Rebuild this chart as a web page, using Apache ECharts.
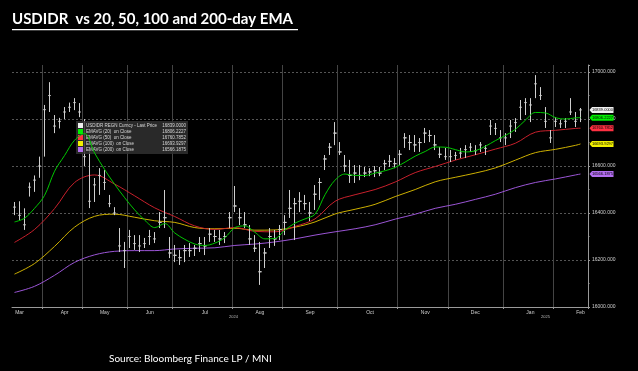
<!DOCTYPE html>
<html><head><meta charset="utf-8">
<script src="https://cdn.jsdelivr.net/npm/echarts@6/dist/echarts.min.js"></script>
<style>html,body{margin:0;padding:0;background:#000}#c{width:638px;height:371px}</style>
</head><body><div id="c"></div>
<script>
// ---- data ----
const months = ['Mar','Apr','May','Jun','Jul','Aug','Sep','Oct','Nov','Dec','Jan','Feb'];
const monthYears = [2024,2024,2024,2024,2024,2024,2024,2024,2024,2024,2025,2025];
const monthBars = [6,8,9,9,12,10,11,12,10,11,10,7]; // 2-day bars per month (last one includes a blank slot)

const barLow = [16391,16370,16328,16470,16490,16550,16640,16830,16740,16760,
16800,16830,16838,16808,16600,16421,16447,16477,16498,16425,
16391,16234,16166,16251,16243,16234,16251,16264,16272,16336,
16336,16208,16191,16179,16191,16213,16217,16234,16221,16277,
16277,16264,16272,16336,16404,16349,16336,16264,16234,16094,
16166,16251,16260,16285,16306,16379,16285,16404,16413,16366,
16413,16455,16583,16647,16689,16647,16575,16528,16528,16540,
16553,16557,16553,16557,16583,16596,16591,16604,16677,16668,
16660,16660,16698,16702,16668,16634,16626,16617,16626,16634,
16634,16660,16647,16660,16647,16732,16732,16702,16689,16719,
16745,16796,16817,16787,16889,16881,16762,16698,16766,16762,
16762,16817,16766,16787];
const barHigh = [16447,16450,16420,16530,16560,16640,16860,16957,16817,16805,
16851,16870,16889,16868,16800,16677,16549,16591,16583,16477,
16425,16336,16277,16328,16306,16306,16294,16328,16319,16404,
16498,16298,16264,16243,16264,16272,16264,16298,16298,16336,
16328,16328,16319,16404,16515,16421,16404,16349,16306,16277,
16251,16336,16328,16349,16391,16498,16464,16489,16477,16447,
16519,16549,16647,16698,16787,16702,16647,16626,16604,16604,
16596,16591,16600,16596,16626,16647,16634,16668,16740,16732,
16732,16719,16762,16753,16732,16681,16677,16668,16660,16677,
16689,16698,16689,16702,16689,16796,16783,16753,16740,16796,
16804,16881,16889,16889,16987,16936,16851,16753,16808,16796,
16804,16889,16830,16847];
const barClose = [16425,16390,16350,16510,16540,16600,16840,16900,16770,16790,
16830,16850,16870,16830,16640,16450,16520,16560,16530,16440,
16400,16260,16240,16300,16270,16260,16270,16300,16290,16360,
16380,16230,16220,16210,16240,16240,16250,16270,16260,16310,
16300,16290,16300,16380,16430,16380,16350,16290,16250,16150,
16230,16300,16290,16330,16360,16420,16440,16450,16440,16400,
16480,16530,16630,16680,16740,16660,16600,16560,16570,16560,
16570,16575,16580,16570,16610,16620,16610,16650,16720,16700,
16690,16700,16740,16730,16690,16650,16640,16640,16645,16655,
16670,16680,16665,16690,16675,16770,16760,16720,16720,16770,
16785,16850,16870,16860,16950,16900,16790,16720,16790,16780,
16790,16830,16790,16839];

// EMA samples (every 2nd bar for EMA20, every 4th bar for the others, plus the last bar)
const ema20 = [16362,16378,16420,16475,16578,16645,16710,16738,16655,16585,
16522,16465,16413,16370,16338,16355,16315,16288,16268,16262,
16272,16295,16338,16345,16318,16290,16292,16328,16357,16375,
16395,16478,16540,16566,16560,16560,16570,16580,16594,16617,
16642,16662,16681,16680,16670,16660,16665,16684,16708,16730,
16756,16795,16828,16826,16806,16800,16805,16806];
const ema50 = [16275,16330,16419,16530,16562,16523,16473,16422,16385,16345,
16330,16338,16322,16320,16343,16375,16450,16478,16500,16532,
16572,16598,16625,16648,16672,16697,16744,16752,16760,16761];
const ema100 = [16140,16185,16258,16340,16386,16395,16382,16367,16360,16338,
16333,16335,16327,16328,16340,16362,16396,16416,16437,16470,
16500,16533,16552,16570,16592,16625,16657,16671,16688,16694];
const ema200 = [16062,16088,16135,16190,16222,16237,16240,16240,16247,16250,
16252,16262,16268,16277,16290,16306,16320,16333,16350,16374,
16395,16420,16437,16458,16480,16508,16530,16545,16562,16566];

const seriesNames = ['USDIDR REGN Curncy - Last Price','EMAVG (20)  on Close','EMAVG (50)  on Close','EMAVG (100)  on Close','EMAVG (200)  on Close'];
const lastValues = ['16839.0000','16806.2227','16760.7852','16693.9297','16566.1875'];
const yTicks = [16000,16200,16400,16600,16800,17000];

// ---- build ----
const categories = [];
const monthStart = new Set();
const labelAt = new Set();
months.forEach((m, k) => {
  const start = categories.length;
  if (k > 0) monthStart.add(start);
  for (let j = 0; j < monthBars[k]; j++) categories.push(m + ' ' + monthYears[k] + ' #' + (j + 1));
  const end = categories.length;
  if (k === 0) labelAt.add(start + 1);
  else if (k === months.length - 1) labelAt.add(end - 2);
  else labelAt.add(Math.floor((start + end) / 2));
});
const nData = barClose.length;
const lastIdx = nData - 1;
const candle = barClose.map((c, i) => [c, c, barLow[i], barHigh[i]]);
const pairs = (arr, step) => arr.map((v, j) => [Math.min(j * step, lastIdx), v]);

const lineColors = ['#00c800', '#c8202c', '#cdb000', '#9b55d6'];
const tagColors = ['#f0f0f0', '#00ee00', '#ff3042', '#f2f000', '#b36ef0'];
const tagPath = 'path://M0,5 L3,0 L28,0 L28,10 L3,10 Z';

function tag(value, idx) {
  return {
    symbol: tagPath, symbolSize: [24, 6], symbolOffset: [21, 0], silent: true,
    itemStyle: { color: tagColors[idx] },
    label: { show: true, position: 'inside', formatter: lastValues[idx], fontSize: 4, color: '#000', fontFamily: 'Liberation Sans', offset: [1, 0] },
    data: [{ coord: [lastIdx, value] }]
  };
}

const emaData = [pairs(ema20, 2), pairs(ema50, 4), pairs(ema100, 4), pairs(ema200, 4)];
const emaLast = [ema20, ema50, ema100, ema200].map(a => a[a.length - 1]);

const series = [{
  name: seriesNames[0], type: 'candlestick', data: candle, barWidth: 3,
  itemStyle: { color: '#cfcfcf', color0: '#cfcfcf', borderColor: '#cfcfcf', borderColor0: '#cfcfcf', borderWidth: 1 },
  markPoint: tag(barClose[lastIdx], 0), z: 3
}];
emaData.forEach((d, k) => {
  series.push({
    name: seriesNames[k + 1], type: 'line', data: d, smooth: 0.35, showSymbol: false, symbol: 'none',
    lineStyle: { color: lineColors[k], width: 1 }, itemStyle: { color: lineColors[k] },
    markPoint: tag(emaLast[k], k + 1), z: 4 - k
  });
});

const valueMap = {};
seriesNames.forEach((n, i) => valueMap[n] = lastValues[i]);

const chart = echarts.init(document.getElementById('c'), null, { renderer: 'canvas' });
chart.setOption({
  backgroundColor: '#000',
  animation: false,
  grid: { left: 12, right: 50, top: 65, bottom: 64 },
  legend: {
    left: 76, top: 121, orient: 'vertical', itemWidth: 5, itemHeight: 5, itemGap: 1,
    backgroundColor: 'rgba(48,48,48,0.85)', padding: [2, 2, 2, 2], selectedMode: false,
    data: seriesNames.map((n, i) => ({ name: n, icon: 'rect', itemStyle: { color: tagColors[i], borderWidth: 0 } })),
    formatter: n => '{n|' + n + '}{v|' + valueMap[n] + '}',
    textStyle: {
      color: '#d8d8d8', fontSize: 5, fontFamily: 'Liberation Sans', padding: [0, 0, 0, -2],
      rich: { n: { width: 74, fontSize: 4.5, color: '#d8d8d8' }, v: { width: 26, align: 'right', fontSize: 4.5, color: '#d8d8d8' } }
    }
  },
  xAxis: {
    type: 'category', data: categories, boundaryGap: true,
    axisLine: { lineStyle: { color: '#9a9a9a', width: 1 } },
    axisTick: { show: true, length: 2, interval: i => monthStart.has(i), lineStyle: { color: '#9a9a9a' } },
    splitLine: { show: true, interval: i => monthStart.has(i), lineStyle: { color: '#444', width: 1 } },
    axisLabel: { interval: i => labelAt.has(i), formatter: v => v.split(' ')[0], color: '#cfcfcf', fontSize: 5, margin: 3, fontFamily: 'Liberation Sans' }
  },
  yAxis: {
    type: 'value', position: 'right', min: yTicks[0], max: 17030, interval: 200, scale: true,
    axisLine: { show: true, lineStyle: { color: '#9a9a9a', width: 1 } },
    axisTick: { show: true, length: 2, lineStyle: { color: '#9a9a9a' } },
    minorTick: { show: true, splitNumber: 2, length: 1.5, lineStyle: { color: '#9a9a9a' } },
    splitLine: { show: true, showMinLine: false, showMaxLine: false, lineStyle: { color: '#555', type: [2, 2], width: 1 } },
    axisLabel: { color: '#cfcfcf', fontSize: 5, margin: 4, showMaxLabel: false, fontFamily: 'Liberation Sans', formatter: v => v.toFixed(3) }
  },
  series: series,
  graphic: [
    { type: 'text', left: 12, top: 12, style: { text: 'USDIDR  vs 20, 50, 100 and 200-day EMA', fill: '#fff', font: 'bold 15px Lato' } },
    { type: 'rect', left: 12, top: 29, shape: { width: 286, height: 1.3 }, style: { fill: '#fff' } },
    { type: 'text', left: 109, top: 354, style: { text: 'Source: Bloomberg Finance LP / MNI', fill: '#fff', font: '10px Lato' } },
    { type: 'text', left: 229, top: 315, style: { text: '2024', fill: '#bbb', font: '4px Liberation Sans' } },
    { type: 'text', left: 541, top: 315, style: { text: '2025', fill: '#bbb', font: '4px Liberation Sans' } }
  ]
});
</script></body></html>
